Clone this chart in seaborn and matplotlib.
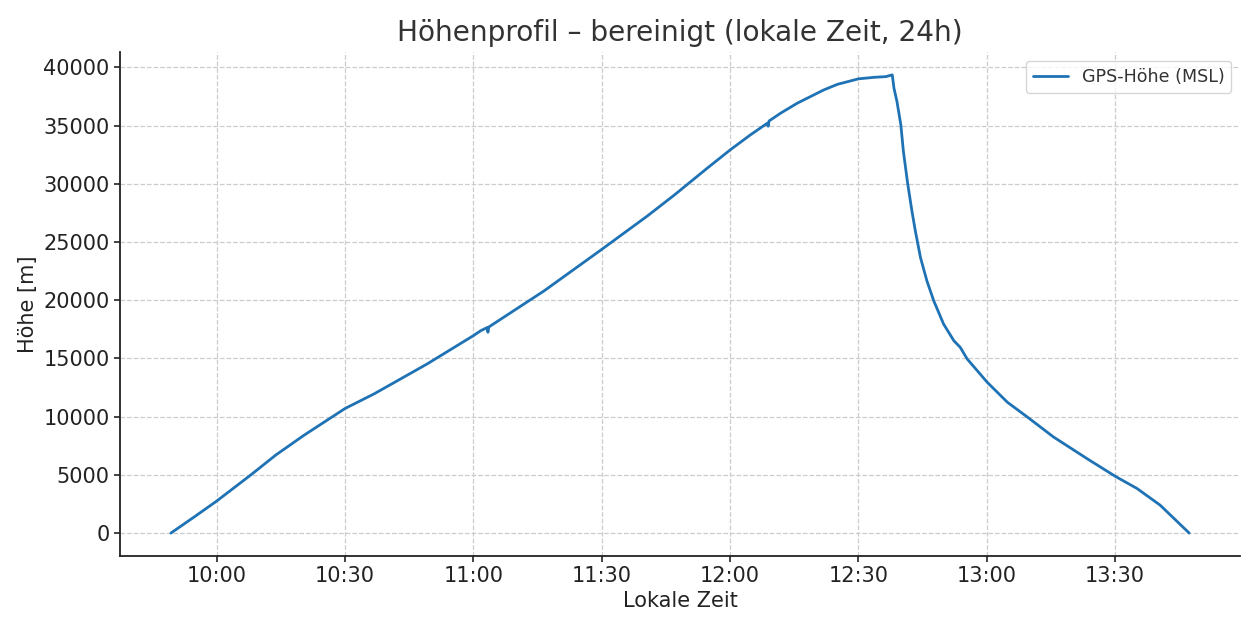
import matplotlib
matplotlib.use("Agg")
import matplotlib.pyplot as plt
import matplotlib.dates as mdates
import seaborn as sns
import pandas as pd

# Local time of each sample (HH:MM:SS) and GPS altitude (m, MSL)
times = [
    "09:49:18", "09:55:00", "10:00:00", "10:08:00", "10:13:48", "10:20:24",
    "10:30:00", "10:36:48", "10:49:12", "11:00:00", "11:01:42", "11:03:12",
    "11:03:24", "11:03:36", "11:08:48", "11:16:30", "11:30:00", "11:40:42",
    "11:47:00", "11:54:42", "12:00:06", "12:04:48", "12:08:42", "12:08:54",
    "12:09:06", "12:11:48", "12:15:42", "12:18:48", "12:21:54", "12:25:06",
    "12:30:00", "12:33:36", "12:36:24", "12:37:54", "12:38:18", "12:39:00",
    "12:39:54", "12:40:30", "12:41:30", "12:42:30", "12:43:18", "12:44:30",
    "12:46:00", "12:47:36", "12:49:54", "12:52:18", "12:53:48", "12:55:24",
    "13:00:06", "13:04:48", "13:09:30", "13:15:36", "13:23:24", "13:30:00",
    "13:35:06", "13:40:30", "13:47:18",
]
altitude = [
    0, 1450, 2750, 5000, 6700, 8400,
    10700, 11960, 14530, 16960, 17380, 17650,
    17250, 17700, 18950, 20800, 24370, 27250,
    29050, 31360, 32940, 34220, 35210, 34950,
    35400, 36070, 36930, 37500, 38070, 38550,
    39020, 39150, 39210, 39360, 38210, 37070,
    35080, 32790, 30030, 27650, 25940, 23660,
    21660, 19950, 17950, 16520, 15950, 14960,
    12950, 11240, 9960, 8250, 6400, 4880,
    3830, 2400, 0,
]

title = "Höhenprofil – bereinigt (lokale Zeit, 24h)"
xlabel = "Lokale Zeit"
ylabel = "Höhe [m]"
series_name = "GPS-Höhe (MSL)"

df = pd.DataFrame({
    "Zeit": pd.to_datetime(["2024-01-01 " + t for t in times]),
    "Hoehe": altitude,
})

sns.set_theme(style="ticks")
plt.rcParams["font.family"] = ["DejaVu Sans"]

fig = plt.figure(figsize=(12.59, 6.3), dpi=100)
ax = fig.add_axes([0.0953, 0.1175, 0.8897, 0.8])

sns.lineplot(data=df, x="Zeit", y="Hoehe", ax=ax, color="#1f72b4",
             linewidth=2.0, label=series_name)

ax.xaxis.set_major_locator(mdates.MinuteLocator(byminute=[0, 30]))
ax.xaxis.set_major_formatter(mdates.DateFormatter("%H:%M"))

ax.grid(True, linestyle="--", color="#cccccc", linewidth=0.9)
for side in ["top", "right"]:
    ax.spines[side].set_visible(False)
for side in ["left", "bottom"]:
    ax.spines[side].set_color("#222222")
    ax.spines[side].set_linewidth(1.3)

ax.tick_params(axis="both", labelsize=15, colors="#222222", length=4.5,
               width=1.2, pad=3)
ax.set_title(title, fontsize=20.2, color="#333333", pad=8)
ax.set_xlabel(xlabel, fontsize=15, color="#222222", labelpad=3)
ax.set_ylabel(ylabel, fontsize=15, color="#222222", labelpad=4)

leg = ax.legend(loc="upper right", fontsize=12.6, frameon=True, framealpha=0.8,
                edgecolor="#cccccc", fancybox=True)
for t in leg.get_texts():
    t.set_color("#333333")

fig.savefig("out.png", dpi=100)
